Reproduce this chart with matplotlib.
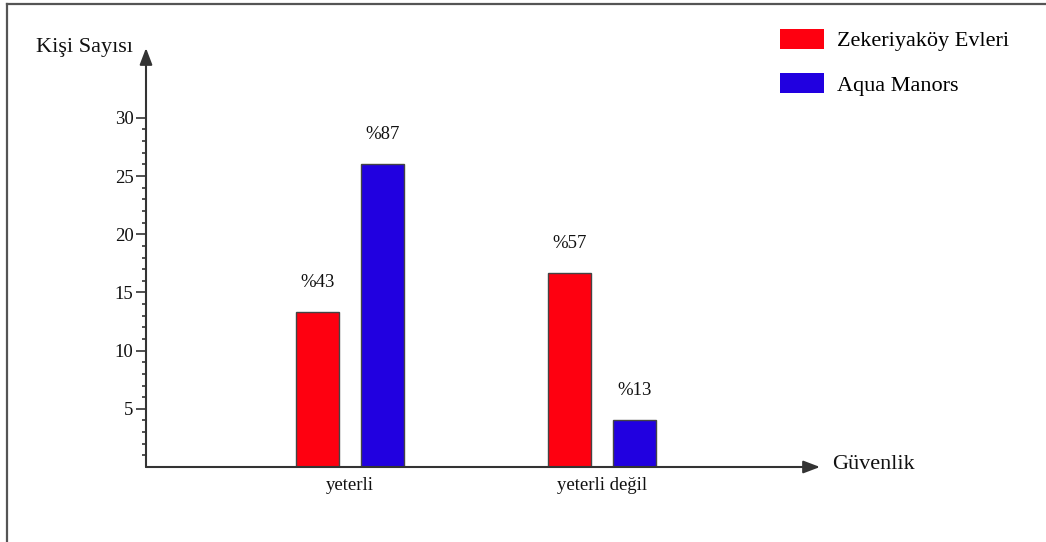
import matplotlib
matplotlib.use("Agg")
import matplotlib.pyplot as plt
from matplotlib.patches import FancyArrowPatch, Patch
from matplotlib.lines import Line2D
import numpy as np

plt.rcParams["font.family"] = ["Liberation Serif", "DejaVu Serif"]

# Data
categories = ["yeterli", "yeterli değil"]
series_names = ["Zekeriyaköy Evleri", "Aqua Manors"]
zekeriyakoy_values = [13.3, 16.7]
aqua_values = [26, 4]
zekeriyakoy_labels = ["%43", "%57"]
aqua_labels = ["%87", "%13"]
y_ticks = [5, 10, 15, 20, 25, 30]
x_title = "Güvenlik"
y_title = "Kişi Sayısı"

colors = ["#fe0010", "#2100e0"]
edge = "#444444"
axis_col = "#333333"

W, H = 1046, 542
fig = plt.figure(figsize=(W / 100, H / 100), dpi=100)


def fx(px):
    return px / W


def fy(py):
    return 1 - py / H


# Axes box: x from 146 to 820 px, y from 48 to 467 px
ax = fig.add_axes([fx(146), fy(467), fx(820) - fx(146), fy(48) - fy(467)])
ax.set_xlim(-0.8095, 1.865)
ax.set_ylim(0, 36.0)

x = np.arange(len(categories))
width = 0.1706
offset = 0.129

bars1 = ax.bar(x - offset, zekeriyakoy_values, width, color=colors[0],
               edgecolor=edge, linewidth=1.0, zorder=3)
bars2 = ax.bar(x + offset, aqua_values, width, color=colors[1],
               edgecolor=edge, linewidth=1.0, zorder=3)

for bars, labels in ((bars1, zekeriyakoy_labels), (bars2, aqua_labels)):
    for b, lab in zip(bars, labels):
        ax.annotate(lab, xy=(b.get_x() + b.get_width() / 2, b.get_height()),
                    xytext=(0, 18), textcoords="offset points",
                    ha="center", va="baseline", fontsize=13.5, color="#111111")

for s in ax.spines.values():
    s.set_visible(False)

# Axis arrows
arrow_kw = dict(arrowstyle="-|>,head_length=1.0,head_width=0.38",
                mutation_scale=10, color=axis_col, lw=1.5,
                shrinkA=0, shrinkB=0, transform=ax.transAxes, clip_on=False,
                zorder=4)
ax.add_patch(FancyArrowPatch((0, 0), (0, 1), **arrow_kw))
ax.add_patch(FancyArrowPatch((0, 0), (1, 0), **arrow_kw))

ax.set_yticks(y_ticks)
ax.set_yticklabels([str(t) for t in y_ticks])
ax.set_yticks([v for v in range(1, 30) if v % 5 != 0], minor=True)
ax.tick_params(axis="y", which="major", direction="out", length=7, width=1.2,
               color=axis_col, pad=2, labelsize=13.5, labelcolor="#111111")
ax.tick_params(axis="y", which="minor", direction="out", length=3, width=1.2,
               color=axis_col)

ax.set_xticks(x)
ax.set_xticklabels(categories)
ax.tick_params(axis="x", which="both", length=0, pad=7, labelsize=13.5,
               labelcolor="#111111")

# Axis titles
fig.text(fx(36), fy(52), y_title, fontsize=16, ha="left", va="baseline",
         color="#111111")
fig.text(fx(832), fy(469), x_title, fontsize=16, ha="left", va="baseline",
         color="#111111")

# Legend
handles = [Patch(facecolor=colors[0], edgecolor="none"),
           Patch(facecolor=colors[1], edgecolor="none")]
fig.legend(handles, series_names, loc="upper left",
           bbox_to_anchor=(fx(773), fy(22)), frameon=False, fontsize=16,
           handlelength=2.0, handleheight=1.0, handletextpad=0.6,
           labelspacing=1.0, borderpad=0.3, borderaxespad=0)

# Outer frame lines (left and top)
fig.add_artist(Line2D([fx(7), fx(7)], [fy(4), 0], color="#555555", lw=1.6,
                      transform=fig.transFigure))
fig.add_artist(Line2D([fx(7), 1], [fy(4), fy(4)], color="#555555", lw=1.6,
                      transform=fig.transFigure))

fig.savefig("out.png", dpi=100)
